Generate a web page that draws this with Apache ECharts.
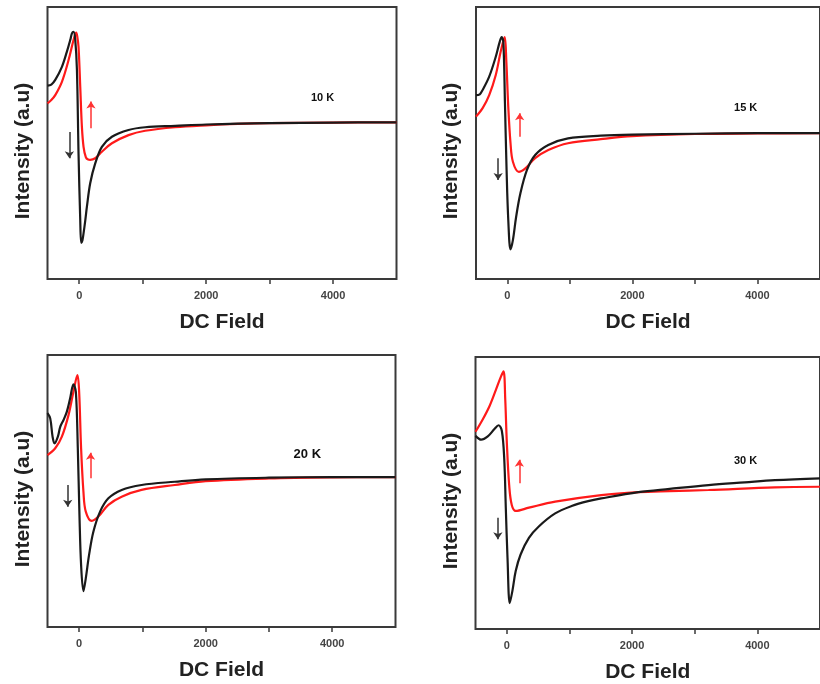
<!DOCTYPE html>
<html>
<head>
<meta charset="utf-8">
<script src="https://cdn.jsdelivr.net/npm/echarts@6/dist/echarts.min.js"></script>
<style>
html,body{margin:0;padding:0;background:#fff;}
#chart{width:820px;height:684px;}
</style>
</head>
<body>
<div id="chart"></div>
<script>
// ---- data (DC field, intensity in arbitrary units 0-100) ----
var panelTitles = ['10 K', '15 K', '20 K', '30 K'];
var xTickLabels = [0, 2000, 4000];
var xTicks = [0, 1000, 2000, 3000, 4000];

var fieldB10 = [-500,-440,-378,-273,-194,-140,-115,-90,-63,-36,-11,16,31,50,68,95,121,173,252,357,515,777,1039,1512,2000,2500,3000,4000,5000];
var intB10   = [71.1,71.5,73.2,78,83.6,88,90.3,90.9,88,76.8,46.2,21.7,13.3,14.2,16.8,21.5,26.6,35.2,42.5,48.6,52.3,54.8,55.8,56.3,56.8,57.1,57.3,57.5,57.6];
var fieldR10 = [-500,-440,-378,-273,-168,-90,-60,-47,-30,-11,16,42,68,105,140,173,252,357,515,777,1039,1512,2000,2500,3000,4000,5000];
var intR10   = [64.6,65.8,67.6,72.5,80.5,87.9,90,90.6,89,85.4,70.7,56,48.6,44.7,43.9,43.8,44.4,46.8,49.9,52.9,54.5,55.8,56.5,57,57.3,57.5,57.6];

var fieldB15 = [-500,-440,-394,-289,-184,-121,-90,-63,-37,-11,16,52,90,142,210,315,446,656,971,1496,2000,3000,4000,5000];
var intB15   = [67.6,67.9,69.5,74.4,81.7,87.2,88.9,87.2,64.6,40.1,21.7,10.9,14.3,22.9,31.5,40.1,45.6,49.3,51.7,52.7,53.1,53.4,53.6,53.6];
var fieldR15 = [-500,-394,-289,-184,-105,-42,-16,16,52,90,184,289,446,656,971,1496,2000,3000,4000,5000];
var intR15   = [59.7,62.8,67.6,75,83.6,88.9,80.5,63.3,49.9,43.1,39.4,40.7,44.4,47.4,49.9,51.4,52.5,53.3,53.5,53.6];

var fieldB20 = [-500,-457,-420,-389,-336,-299,-247,-194,-142,-90,-52,-21,5,31,68,105,157,225,331,462,672,987,1512,2000,3000,4000,5000];
var intB20   = [78.6,76.7,70,67.5,70,73.6,76.1,79.2,84.1,89.2,86.5,65.7,41.2,22.8,13.2,17.9,26.5,35,42.4,47.3,50.4,52.2,53.4,54.3,54.9,55.1,55.1];
var fieldR20 = [-500,-378,-273,-168,-90,-27,0,31,68,105,200,304,462,672,987,1512,2000,3000,4000,5000];
var intR20   = [63.2,65.7,70,77.9,86.5,92.6,86.5,65.7,49.7,42.4,39,40.6,44.9,47.9,50.4,52.2,53.6,54.6,55,55.1];

var fieldB30 = [-500,-409,-304,-198,-131,-79,-41,-16,11,47,90,142,220,353,510,772,1035,1298,1507,2100,2600,3220,3800,4280,5000];
var intB30   = [71,69.6,70.8,73.5,74.9,72.8,62.5,44.4,26.2,9.5,14.1,21.3,27.4,33.5,37.7,42.5,45.2,47,48,50.3,51.5,52.9,53.9,54.7,55.4];
var fieldR30 = [-500,-383,-277,-173,-94,-52,-25,0,38,79,142,353,772,1507,2100,2600,3220,4280,5000];
var intR30   = [72.5,77.1,81.9,88,92.8,94.7,84.4,68.6,52.8,45.6,43.4,44.6,46.8,49.2,50.3,50.7,51.1,52.1,52.3];

// arrows: [x, yStart, yEnd]
var arrowBlack = [[-155,54,44.4],[-146,44.4,36.4],[-180,52.2,44.2],[-143,40.9,33]];
var arrowRed   = [[185,55.4,65.3],[198,52.3,60.9],[180,54.7,64.1],[200,53.6,62.2]];
// temperature label positions [x, y]
var labelPos = [[3835,66.5],[3811,63],[3606,63.4],[3811,61.8]];
var labelSize = [11, 11, 13, 11];

var blackF = [fieldB10, fieldB15, fieldB20, fieldB30];
var blackI = [intB10, intB15, intB20, intB30];
var redF = [fieldR10, fieldR15, fieldR20, fieldR30];
var redI = [intR10, intR15, intR20, intR30];

// ---- layout ----
var grids = [
  {left: 47.5, top: 7, width: 349, height: 272},
  {left: 476, top: 7, width: 349, height: 272},
  {left: 47.5, top: 355, width: 348, height: 272},
  {left: 475.5, top: 357, width: 349, height: 275}
];
var FONT = '"Liberation Sans", Arial, sans-serif';
var BLACK = '#1a1a1a', RED = '#ff1a1a';

function zip(a, b){ return a.map(function(v,i){ return [v, b[i]]; }); }

var option = {
  animation: false,
  backgroundColor: '#fff',
  grid: grids.map(function(g){
    return {left: g.left, top: g.top, width: g.width, height: g.height,
            show: true, borderColor: '#3a3a3a', borderWidth: 2, backgroundColor: 'transparent'};
  }),
  xAxis: grids.map(function(g, i){
    return {
      type: 'value', gridIndex: i, min: -500, max: 5000,
      name: 'DC Field', nameLocation: 'middle', nameGap: 33,
      nameTextStyle: {fontFamily: FONT, fontWeight: 'bold', fontSize: 21, color: '#222'},
      axisLine: {show: false},
      splitLine: {show: false},
      axisTick: {show: true, inside: false, length: 5, customValues: xTicks,
                 lineStyle: {color: '#3a3a3a', width: 1.5}},
      axisLabel: {show: true, customValues: xTickLabels, margin: 11,
                  formatter: function(v){ return String(v); },
                  fontFamily: FONT, fontWeight: 'bold', fontSize: 11, color: '#444'}
    };
  }),
  yAxis: grids.map(function(g, i){
    return {
      type: 'value', gridIndex: i, min: 0, max: 100,
      name: 'Intensity (a.u)', nameLocation: 'middle', nameGap: 14, nameRotate: 90,
      nameTextStyle: {fontFamily: FONT, fontWeight: 'bold', fontSize: 21, color: '#222',
                      padding: [0, 16, 0, 0]},
      axisLine: {show: false}, axisTick: {show: false},
      axisLabel: {show: false}, splitLine: {show: false}
    };
  }),
  series: []
};

for (var i = 0; i < 4; i++) {
  var ab = arrowBlack[i], ar = arrowRed[i];
  option.series.push({
    type: 'line', xAxisIndex: i, yAxisIndex: i, name: 'black' + i,
    data: zip(blackF[i], blackI[i]), showSymbol: false, smooth: 0.35,
    lineStyle: {color: BLACK, width: 2.2}, itemStyle: {color: BLACK}, z: 3,
    markLine: {
      silent: true, symbol: ['none', 'arrow'], symbolSize: 7, animation: false,
      label: {show: false},
      lineStyle: {color: '#333', width: 1.5, type: 'solid'},
      data: [[{coord: [ab[0], ab[1]]}, {coord: [ab[0], ab[2]]}]]
    },
    markPoint: {
      silent: true, symbol: 'rect', symbolSize: 1, itemStyle: {color: 'transparent'},
      label: {show: true, position: 'inside', formatter: panelTitles[i],
              fontFamily: FONT, fontWeight: 'bold', fontSize: labelSize[i], color: '#111'},
      data: [{coord: labelPos[i]}]
    }
  });
  option.series.push({
    type: 'line', xAxisIndex: i, yAxisIndex: i, name: 'red' + i,
    data: zip(redF[i], redI[i]), showSymbol: false, smooth: 0.35,
    lineStyle: {color: RED, width: 2.2}, itemStyle: {color: RED}, z: 2,
    markLine: {
      silent: true, symbol: ['none', 'arrow'], symbolSize: 7, animation: false,
      label: {show: false},
      lineStyle: {color: '#ff3333', width: 1.5, type: 'solid'},
      data: [[{coord: [ar[0], ar[1]]}, {coord: [ar[0], ar[2]]}]]
    }
  });
}

var chart = echarts.init(document.getElementById('chart'), null, {renderer: 'canvas'});
chart.setOption(option);
</script>
</body>
</html>
